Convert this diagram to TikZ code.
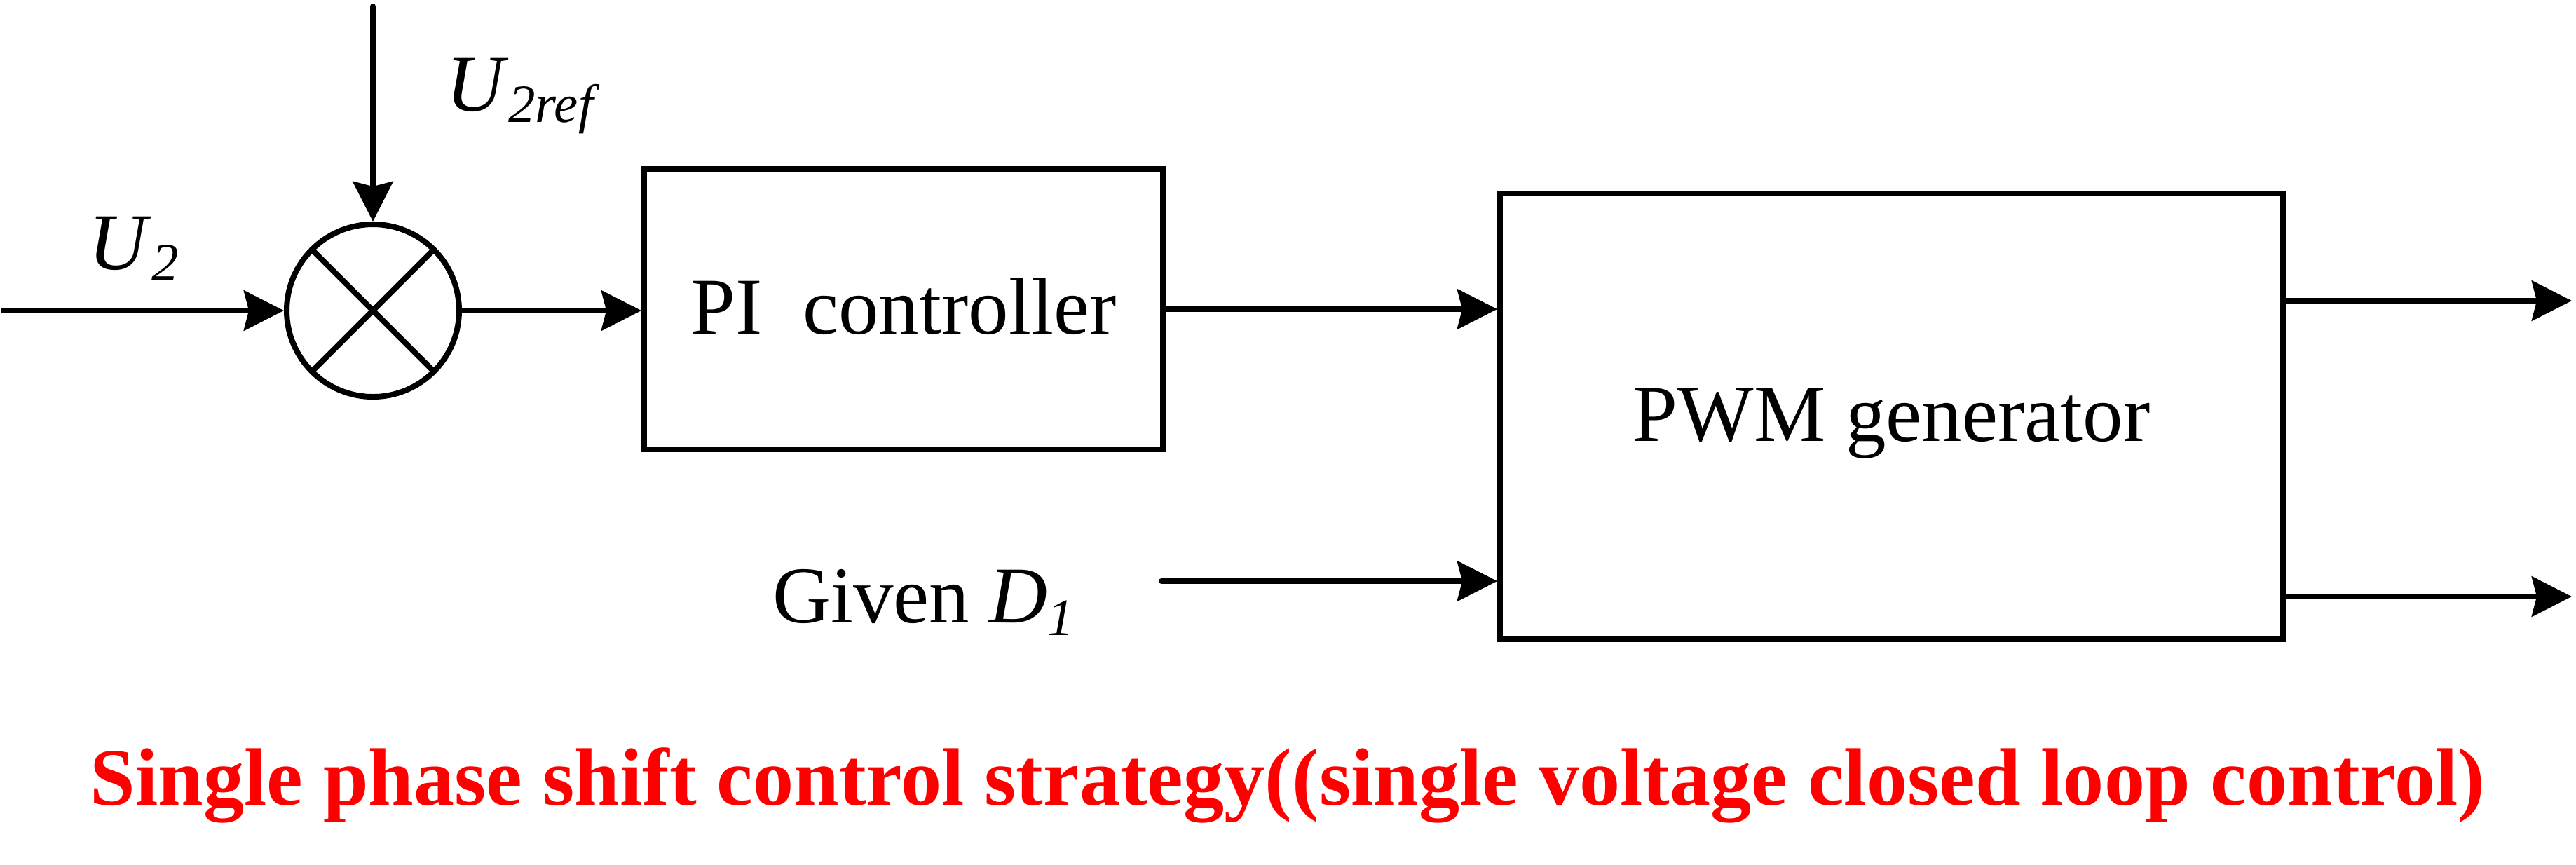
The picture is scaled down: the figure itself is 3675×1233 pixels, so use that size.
\documentclass[tikz,border=0pt]{standalone}
\usepackage{fontspec}
\setmainfont{Liberation Serif}
\usetikzlibrary{arrows.meta}
\newcommand{\lowsub}[1]{\raisebox{-1.6pt}{\fontsize{7.7pt}{8pt}\selectfont\itshape #1}}
\begin{document}
\begin{tikzpicture}[x=0.1pt,y=-0.1pt,
  every node/.style={font=\fontsize{11.5pt}{13pt}\selectfont, inner sep=0pt},
  wire/.style={line width=0.8pt, line cap=round, -{Stealth[length=5.7pt,width=5.7pt,inset=0.7pt]}},
  blockbox/.style={draw, line width=0.8pt, text height=7pt, text depth=0pt, align=center},
  sumnode/.style={draw, circle, line width=0.8pt, minimum size=24.6pt},
  lbl/.style={anchor=base west},
  titletext/.style={anchor=base, text=red, font=\fontsize{11.62pt}{13pt}\selectfont\bfseries}
]
\useasboundingbox (0,0) rectangle (3675,1233);

% summing junction
\node[sumnode] (sum) at (532,443) {};
\draw[line width=0.8pt, shorten <=0.4pt, shorten >=0.4pt] (sum.45) -- (sum.225);
\draw[line width=0.8pt, shorten <=0.4pt, shorten >=0.4pt] (sum.135) -- (sum.315);

% blocks
\node[blockbox, minimum width=74pt, minimum height=40pt] (pi) at (1289,441) {PI\ \ controller};
\node[blockbox, minimum width=111.7pt, minimum height=63.6pt] (pwm) at (2698.5,594) {PWM generator};

% free ends
\coordinate (u2in) at (5,443);
\coordinate (refin) at (532,9);
\coordinate (d1in) at (1657,829);
\coordinate (out1) at (3669,429);
\coordinate (out2) at (3669,851);

% connectors
\draw[wire] (u2in) -- (sum.west);
\draw[wire] (refin) -- (sum.north);
\draw[wire] (sum.east) -- (sum.east -| pi.west);
\draw[wire] (pi.east) -- (pi.east -| pwm.west);
\draw[wire] (d1in) -- (d1in -| pwm.west);
\draw[wire] (out1 -| pwm.east) -- (out1);
\draw[wire] (out2 -| pwm.east) -- (out2);

% labels
\node[lbl] (lu2ref) at (634,158) {\textit{U}\lowsub{2ref}};
\node[lbl] (lu2) at (125,384) {\textit{U}\lowsub{2}};
\node[lbl] (ld1) at (1100,888) {Given \textit{D}\raisebox{-1.8pt}{\fontsize{7.5pt}{8pt}\selectfont\itshape 1}};

% title
\node[titletext] (title) at (1837,1148) {Single phase shift control strategy((single voltage closed loop control)};
\end{tikzpicture}
\end{document}
